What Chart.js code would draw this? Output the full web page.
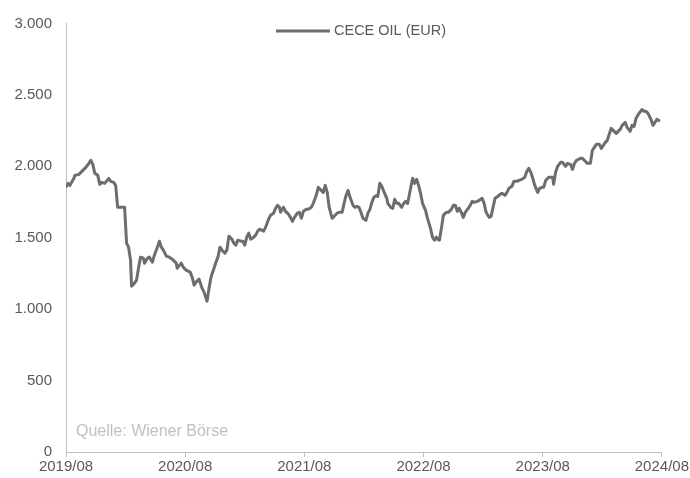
<!DOCTYPE html>
<html>
<head>
<meta charset="utf-8">
<script src="https://cdn.jsdelivr.net/npm/chart.js@4/dist/chart.umd.min.js"></script>
<style>
html,body{margin:0;padding:0;background:#fff;}
#wrap{width:690px;height:478px;position:relative;}
</style>
</head>
<body>
<div id="wrap"><canvas id="c" width="690" height="478"></canvas></div>
<script>
// months since 2019/08
const months = [0.0,0.2,0.4,0.8,0.9,1.3,1.5,1.8,2.0,2.3,2.5,2.7,2.9,3.2,3.4,3.6,3.9,4.3,4.5,4.8,5.0,5.2,5.5,5.9,6.1,6.3,6.5,6.6,6.9,7.1,7.3,7.5,7.8,7.9,8.2,8.4,8.7,8.9,9.2,9.4,9.6,9.8,10.1,10.4,10.7,11.1,11.2,11.6,11.8,12.1,12.5,12.7,12.9,13.1,13.4,13.7,13.9,14.2,14.4,14.6,14.9,15.1,15.3,15.5,15.7,16.0,16.2,16.4,16.7,16.9,17.1,17.3,17.6,17.8,18.0,18.2,18.4,18.6,18.9,19.1,19.3,19.5,19.7,19.9,20.1,20.4,20.6,20.9,21.1,21.3,21.5,21.6,21.9,22.1,22.4,22.6,22.8,23.0,23.3,23.5,23.7,23.9,24.2,24.4,24.7,24.9,25.2,25.4,25.6,25.9,26.1,26.3,26.5,26.8,27.0,27.3,27.5,27.8,28.0,28.2,28.4,28.6,28.9,29.1,29.3,29.5,29.7,29.9,30.2,30.4,30.6,30.8,31.0,31.3,31.4,31.6,31.8,32.0,32.3,32.4,32.7,32.9,33.1,33.3,33.5,33.8,34.0,34.2,34.4,34.6,34.8,34.9,35.1,35.3,35.5,35.7,35.9,36.2,36.4,36.7,36.9,37.1,37.3,37.4,37.6,37.8,38.0,38.3,38.5,38.8,39.0,39.2,39.4,39.6,39.8,40.0,40.2,40.5,40.7,40.9,41.1,41.4,41.6,41.9,42.1,42.3,42.6,42.8,43.0,43.2,43.5,43.7,43.9,44.2,44.4,44.6,44.9,45.1,45.4,45.6,45.9,46.2,46.4,46.6,46.8,47.0,47.2,47.5,47.7,47.9,48.1,48.3,48.6,48.8,49.0,49.1,49.3,49.5,49.8,50.0,50.3,50.5,50.8,51.0,51.2,51.4,51.8,52.0,52.3,52.5,52.8,53.0,53.2,53.4,53.7,53.9,54.1,54.3,54.5,54.7,54.9,55.1,55.4,55.6,55.8,56.0,56.3,56.5,56.8,57.0,57.2,57.4,57.7,58.0,58.2,58.4,58.6,58.9,59.1,59.3,59.5,59.8];
const ceceOil = [1853,1881,1867,1916,1937,1944,1958,1979,1993,2021,2042,2014,1951,1937,1874,1888,1881,1916,1895,1888,1867,1713,1713,1713,1462,1434,1343,1161,1182,1203,1287,1364,1357,1322,1357,1364,1329,1378,1434,1476,1434,1413,1371,1364,1350,1322,1287,1322,1294,1273,1259,1224,1168,1189,1210,1147,1119,1056,1147,1224,1287,1329,1364,1434,1413,1392,1413,1511,1490,1462,1448,1483,1476,1476,1448,1504,1532,1490,1504,1518,1546,1560,1553,1546,1574,1630,1658,1672,1706,1727,1713,1678,1713,1685,1665,1643,1615,1643,1672,1678,1636,1685,1699,1699,1713,1741,1797,1853,1839,1818,1867,1818,1713,1636,1650,1672,1678,1678,1741,1797,1832,1783,1727,1713,1720,1713,1678,1636,1622,1672,1699,1748,1783,1797,1790,1881,1860,1825,1776,1741,1713,1706,1769,1741,1741,1713,1741,1755,1741,1811,1881,1916,1881,1909,1867,1811,1741,1692,1636,1566,1504,1483,1504,1490,1483,1566,1658,1678,1678,1699,1727,1727,1685,1706,1678,1643,1678,1706,1727,1755,1748,1755,1762,1776,1741,1678,1643,1650,1713,1776,1790,1804,1811,1797,1818,1846,1860,1895,1895,1902,1909,1923,1965,1986,1958,1916,1867,1818,1846,1853,1853,1902,1923,1923,1923,1874,1958,2000,2028,2028,2000,2021,2014,1979,2021,2042,2056,2056,2035,2021,2021,2112,2133,2154,2154,2126,2147,2168,2182,2224,2266,2252,2231,2245,2259,2287,2308,2273,2245,2287,2280,2336,2371,2398,2385,2385,2371,2329,2287,2308,2329,2315];
const xTickMonths = [0,12,24,36,48,60];
const xTickLabels = ['2019/08','2020/08','2021/08','2022/08','2023/08','2024/08'];
const yTicks = [0,500,1000,1500,2000,2500,3000];
const seriesName = 'CECE OIL (EUR)';
const sourceNote = 'Quelle: Wiener Börse';

const FONT = 'Liberation Sans, Arial, sans-serif';
const TXT = '#595959';
const AXIS = '#bfbfbf';
const LINE = '#6d6d6d';

function fmt(v){ return String(v).replace(/\B(?=(\d{3})+(?!\d))/g,'.'); }

const overlay = {
  id:'overlay',
  afterDraw(chart){
    const ctx = chart.ctx, a = chart.chartArea;
    ctx.save();
    // legend
    const ly = 31;
    ctx.strokeStyle = LINE; ctx.lineWidth = 3;
    ctx.beginPath(); ctx.moveTo(a.left+210, ly); ctx.lineTo(a.left+264, ly); ctx.stroke();
    ctx.fillStyle = TXT; ctx.font = '14.5px ' + FONT; ctx.textBaseline = 'middle'; ctx.textAlign='left';
    ctx.fillText(seriesName, a.left+268, ly);
    // source
    ctx.fillStyle = '#c0c0c0'; ctx.font = '16px ' + FONT;
    ctx.fillText(sourceNote, a.left+10, 432);
    ctx.restore();
  }
};

new Chart(document.getElementById('c'), {
  type:'line',
  data:{
    datasets:[{
      label:seriesName,
      data: months.map((m,i)=>({x:m,y:ceceOil[i]})),
      borderColor:LINE, backgroundColor:LINE,
      borderWidth:3, pointRadius:0, tension:0, borderJoinStyle:'round'
    }]
  },
  options:{
    responsive:false, animation:false,
    layout:{padding:{left:0,right:25,top:23.5,bottom:0}},
    plugins:{legend:{display:false}, tooltip:{enabled:false}},
    scales:{
      x:{
        type:'linear', min:0, max:60,
        afterBuildTicks(s){ s.ticks = xTickMonths.map(v=>({value:v})); },
        afterFit(s){ s.height = 26; },
        ticks:{ autoSkip:false, maxRotation:0, padding:1, color:TXT, font:{family:FONT,size:15},
          callback(v){ const i = xTickMonths.indexOf(v); return i>=0 ? xTickLabels[i] : ''; } },
        grid:{ drawOnChartArea:false, drawTicks:true, tickLength:5, color:AXIS },
        border:{ color:AXIS, width:1 }
      },
      y:{
        min:0, max:3000,
        afterBuildTicks(s){ s.ticks = yTicks.map(v=>({value:v})); },
        afterFit(s){ s.width = 66; },
        ticks:{ padding:14, color:TXT, font:{family:FONT,size:15}, callback(v){ return fmt(v); } },
        grid:{ display:true, drawOnChartArea:false, drawTicks:false, color:AXIS },
        border:{ color:AXIS, width:1 }
      }
    }
  },
  plugins:[overlay]
});
</script>
</body>
</html>
